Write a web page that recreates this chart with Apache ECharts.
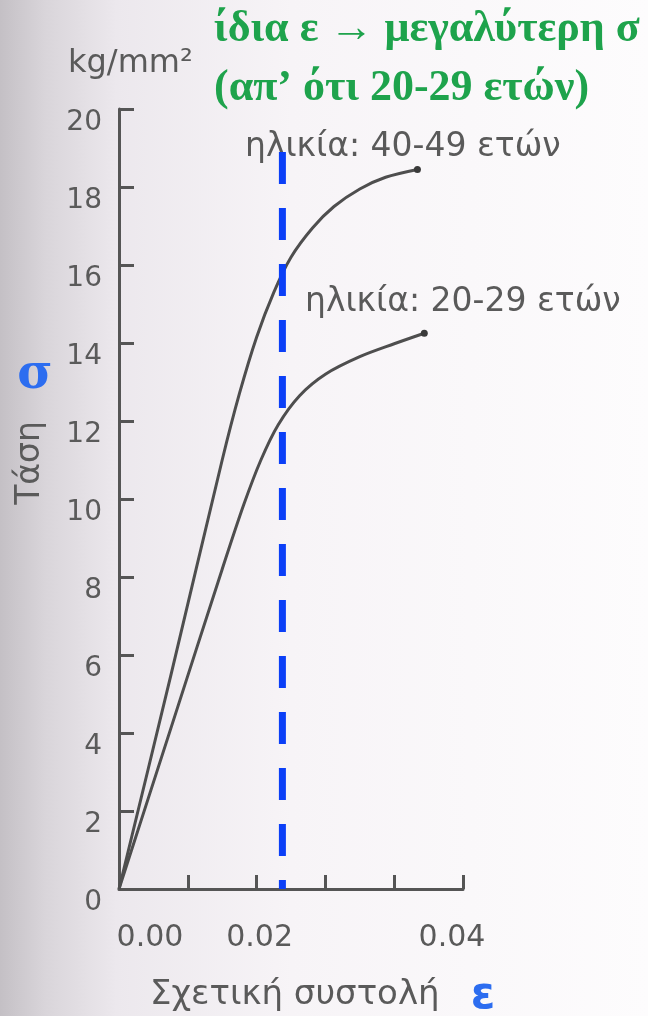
<!DOCTYPE html>
<html>
<head>
<meta charset="utf-8">
<script src="https://cdn.jsdelivr.net/npm/echarts@6/dist/echarts.min.js"></script>
<style>
  html, body { margin: 0; padding: 0; }
  #chart { width: 648px; height: 1016px; }
</style>
</head>
<body>
<div id="chart"></div>
<script>
// ---- data ----
const strain4049 = [0, 0.0060, 0.0120, 0.0140, 0.0160, 0.0180, 0.0200, 0.0225, 0.0250, 0.0280, 0.0310, 0.0347];
const stress4049 = [0, 5.45, 11.0, 12.7, 14.15, 15.3, 16.2, 16.95, 17.5, 17.95, 18.25, 18.45];
const strain2029 = [0, 0.0060, 0.0120, 0.0145, 0.0165, 0.0185, 0.0210, 0.0240, 0.0280, 0.0320, 0.0355];
const stress2029 = [0, 4.1, 8.2, 9.85, 11.0, 11.9, 12.65, 13.2, 13.65, 13.98, 14.25];
const markerStrain = 0.019;           // same ε (blue dashed line)
const markerStress = [18.9, 0];
const xTickLabels = ['0.00', '', '0.02', '', '', '0.04'];
const yTicks = [0, 2, 4, 6, 8, 10, 12, 14, 16, 18, 20];

const label4049 = 'ηλικία: 40-49 ετών';
const label2029 = 'ηλικία: 20-29 ετών';
const yUnit = 'kg/mm²';
const yName = 'Τάση';
const xName = 'Σχετική συστολή';
const noteLine1 = 'ίδια ε → μεγαλύτερη σ';
const noteLine2 = '(απ’ ότι 20-29 ετών)';

// ---- build ----
function toPairs(xs, ys) {
  return xs.map((x, i) => {
    const item = { value: [x, ys[i]] };
    if (i === xs.length - 1) { item.symbol = 'circle'; item.symbolSize = 7; }
    return item;
  });
}
const grey = '#555555';
const textGrey = '#5a5a5a';
const sansFont = '"DejaVu Sans", sans-serif';

const chart = echarts.init(document.getElementById('chart'), null, { renderer: 'canvas' });
const option = {
  backgroundColor: {
    type: 'linear', x: 0, y: 0, x2: 1, y2: 0,
    colorStops: [
      { offset: 0, color: '#c4c0c5' },
      { offset: 0.07, color: '#d9d5da' },
      { offset: 0.18, color: '#ece8ed' },
      { offset: 0.45, color: '#f7f4f7' },
      { offset: 1, color: '#fdfcfd' }
    ]
  },
  animation: false,
  grid: { left: 119, right: 185, top: 109, bottom: 127 },
  xAxis: {
    type: 'value', min: 0, max: 0.04, interval: 0.008,
    axisLine: { lineStyle: { color: grey, width: 3 } },
    axisTick: { inside: true, length: 14, lineStyle: { color: grey, width: 3 } },
    splitLine: { show: false },
    axisLabel: {
      margin: 34,
      color: textGrey,
      fontFamily: sansFont,
      fontSize: 30,
      formatter: function (v) {
        const idx = Math.round(v / 0.008);
        const t = xTickLabels[idx] || '';
        if (!t) return '';
        if (idx === 0) return '{a|' + t + '}';
        if (idx === 5) return '{c|' + t + '}';
        return '{b|' + t + '}';
      },
      rich: {
        a: { padding: [0, 0, 0, 62], color: textGrey, fontFamily: sansFont, fontSize: 30 },
        b: { padding: [0, 0, 0, 6], color: textGrey, fontFamily: sansFont, fontSize: 30 },
        c: { padding: [0, 22, 0, 0], color: textGrey, fontFamily: sansFont, fontSize: 30 }
      }
    }
  },
  yAxis: {
    type: 'value', min: 0, max: 20, interval: 2,
    axisLine: { show: true, lineStyle: { color: grey, width: 3 } },
    axisTick: { show: true, inside: true, length: 15, lineStyle: { color: grey, width: 3 } },
    splitLine: { show: false },
    axisLabel: {
      margin: 17,
      color: textGrey,
      fontFamily: sansFont,
      fontSize: 28,
      verticalAlign: 'top',
      formatter: function (v) { return yTicks.indexOf(v) >= 0 ? String(v) : ''; }
    }
  },
  series: [
    {
      name: label4049, type: 'line', smooth: 0.3, symbol: 'none', showSymbol: true,
      lineStyle: { color: '#4e4e4e', width: 3 },
      itemStyle: { color: '#3a3a3a' },
      data: toPairs(strain4049, stress4049), z: 3
    },
    {
      name: label2029, type: 'line', smooth: 0.3, symbol: 'none', showSymbol: true,
      lineStyle: { color: '#4e4e4e', width: 3 },
      itemStyle: { color: '#3a3a3a' },
      data: toPairs(strain2029, stress2029), z: 3
    },
    {
      name: 'ίδια ε', type: 'line', symbol: 'none',
      lineStyle: { color: '#0b3ff7', width: 7, type: [32, 24], cap: 'butt' },
      data: markerStress.map(s => [markerStrain, s]), z: 4
    }
  ],
  graphic: [
    { type: 'text', x: 214, y: 30, style: { text: noteLine1, fill: '#1ea34c', font: 'bold 44px "Liberation Serif", serif', align: 'left', verticalAlign: 'middle' } },
    { type: 'text', x: 214, y: 89, style: { text: noteLine2, fill: '#1ea34c', font: 'bold 44px "Liberation Serif", serif', align: 'left', verticalAlign: 'middle' } },
    { type: 'text', x: 68, y: 64, style: { text: yUnit, fill: textGrey, font: '32px ' + sansFont, align: 'left', verticalAlign: 'middle' } },
    { type: 'text', x: 245, y: 147, style: { text: label4049, fill: textGrey, font: '33px ' + sansFont, align: 'left', verticalAlign: 'middle' } },
    { type: 'text', x: 305, y: 302, style: { text: label2029, fill: textGrey, font: '33px ' + sansFont, align: 'left', verticalAlign: 'middle' } },
    { type: 'text', x: 35, y: 376, style: { text: 'σ', fill: '#2c6df0', font: 'bold 48px "DejaVu Serif", serif', align: 'center', verticalAlign: 'middle' } },
    { type: 'text', x: 30, y: 463, rotation: Math.PI / 2, style: { text: yName, fill: textGrey, font: '33px ' + sansFont, align: 'center', verticalAlign: 'middle' } },
    { type: 'text', x: 150, y: 995, style: { text: xName, fill: textGrey, font: '34px ' + sansFont, align: 'left', verticalAlign: 'middle' } },
    { type: 'text', x: 483, y: 997, style: { text: 'ε', fill: '#2c6df0', font: 'bold 44px ' + sansFont, align: 'center', verticalAlign: 'middle' } }
  ]
};
chart.setOption(option);
</script>
</body>
</html>
